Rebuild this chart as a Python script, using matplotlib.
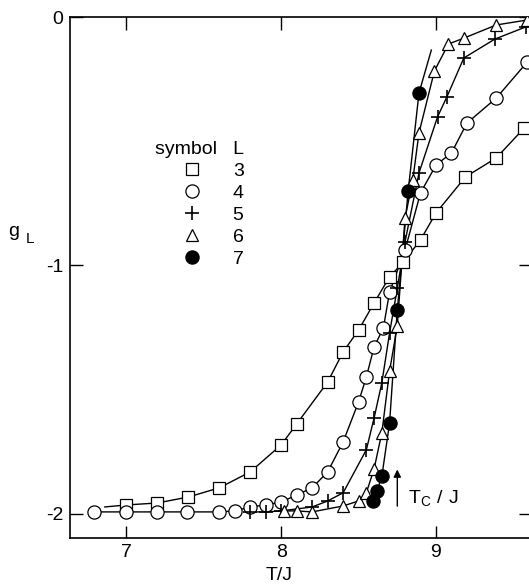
import matplotlib
matplotlib.use("Agg")
import matplotlib.pyplot as plt
from matplotlib.lines import Line2D

plt.rcParams['font.family'] = ['Liberation Sans', 'DejaVu Sans']
plt.rcParams['mathtext.fontset'] = 'custom'
plt.rcParams['mathtext.rm'] = 'Liberation Sans'

# Binder cumulant g_L vs temperature for lattice sizes L = 3..7
T_L3 = [7.0, 7.2, 7.4, 7.6, 7.8, 8.0, 8.1, 8.3, 8.4, 8.5, 8.6, 8.7, 8.79, 8.9, 9.0, 9.19, 9.39, 9.57]
g_L3 = [-1.964, -1.956, -1.932, -1.895, -1.831, -1.722, -1.638, -1.469, -1.348, -1.260,
        -1.151, -1.046, -0.986, -0.897, -0.789, -0.644, -0.567, -0.447]

T_L4 = [6.79, 7.0, 7.2, 7.39, 7.6, 7.7, 7.8, 7.9, 8.0, 8.1, 8.2, 8.3, 8.4, 8.5, 8.55,
        8.6, 8.66, 8.7, 8.8, 8.9, 9.0, 9.1, 9.2, 9.39, 9.59]
g_L4 = [-1.992, -1.992, -1.992, -1.992, -1.992, -1.988, -1.972, -1.964, -1.952, -1.924,
        -1.895, -1.831, -1.710, -1.549, -1.449, -1.328, -1.252, -1.107, -0.938, -0.708,
        -0.596, -0.547, -0.427, -0.326, -0.181]

T_L5 = [7.8, 7.9, 8.0, 8.2, 8.3, 8.4, 8.55, 8.6, 8.65, 8.7, 8.75, 8.8, 8.89, 9.01, 9.07, 9.18, 9.38, 9.58]
g_L5 = [-1.992, -1.992, -1.988, -1.972, -1.948, -1.915, -1.742, -1.614, -1.473, -1.272,
        -1.091, -0.905, -0.628, -0.402, -0.322, -0.165, -0.089, -0.040]

T_L6 = [8.02, 8.1, 8.2, 8.4, 8.5, 8.55, 8.6, 8.65, 8.7, 8.75, 8.8, 8.85, 8.89, 8.99, 9.08, 9.18, 9.39, 9.59]
g_L6 = [-1.988, -1.988, -1.992, -1.968, -1.948, -1.915, -1.819, -1.674, -1.425, -1.243,
        -0.809, -0.656, -0.467, -0.217, -0.109, -0.085, -0.032, -0.012]

T_L7 = [8.59, 8.62, 8.65, 8.70, 8.75, 8.82, 8.89]
g_L7 = [-1.948, -1.907, -1.849, -1.635, -1.179, -0.702, -0.306]

# guide curves run a little past the outermost points
curve_L3_start = (6.86, -1.972)
curve_L7_end = (8.97, -0.133)

Tc = 8.75
sizes = ['3', '4', '5', '6', '7']

fig = plt.figure(figsize=(5.29, 5.87), dpi=100)
ax = fig.add_axes([70 / 529, 49 / 587, 461 / 529, 521 / 587])

lw = 1.0
ax.plot([curve_L3_start[0]] + T_L3, [curve_L3_start[1]] + g_L3, color='k', lw=lw)
ax.plot(T_L4, g_L4, color='k', lw=lw)
ax.plot(T_L5, g_L5, color='k', lw=lw)
ax.plot(T_L6, g_L6, color='k', lw=lw)
ax.plot(T_L7 + [curve_L7_end[0]], g_L7 + [curve_L7_end[1]], color='k', lw=lw)

styles = [
    dict(marker='s', ms=8.5, mfc='white'),
    dict(marker='o', ms=9.5, mfc='white'),
    dict(marker='+', ms=10, mew=1.2),
    dict(marker='^', ms=9, mfc='white'),
    dict(marker='o', ms=9.5, mfc='black'),
]
series = [(T_L3, g_L3), (T_L4, g_L4), (T_L5, g_L5), (T_L6, g_L6), (T_L7, g_L7)]
for (t, g), st in zip(series, styles):
    kw = dict(mec='k', mew=0.9, ls='none')
    kw.update(st)
    ax.plot(t, g, zorder=3, **kw)

ax.set_xlim(6.635, 9.614)
ax.set_ylim(-2.097, 0)
ax.set_xticks([7, 8, 9])
ax.set_xticklabels(['7', '8', '9'])
ax.set_yticks([0, -1, -2])
ax.set_yticklabels(['0', '-1', '-2'])
ax.tick_params(direction='in', length=9, width=1, labelsize=14, top=True, right=True)
ax.tick_params(axis='y', pad=5)
ax.tick_params(axis='x', pad=4)
for s in ax.spines.values():
    s.set_linewidth(1.2)

# arrow marking the critical temperature
ax.annotate('', xy=(Tc, -1.81), xytext=(Tc, -1.98),
            arrowprops=dict(arrowstyle='-|>', color='k', lw=1, mutation_scale=11))
ax.text(8.819, -1.956, r'$\mathregular{T_C\ /\ J}$', fontsize=14, ha='left', va='baseline')

handles = []
for st in styles:
    kw = dict(mec='k', mew=0.9, ls='none', color='k')
    kw.update(st)
    handles.append(Line2D([], [], **kw))
leg = ax.legend(handles, sizes, title='symbol   L', loc='upper left',
                bbox_to_anchor=(145 / 529, 1 - 131 / 587), bbox_transform=fig.transFigure,
                frameon=False, fontsize=14, title_fontsize=14, alignment='right',
                borderpad=0, handlelength=1.0, handletextpad=1.6, labelspacing=0.23,
                numpoints=1)

fig.text(8 / 529, 1 - 236 / 587, 'g', fontsize=14, va='baseline')
fig.text(26 / 529, 1 - 243 / 587, 'L', fontsize=11, va='baseline')
fig.text(279 / 529, 1 - 576 / 587, 'T/J', fontsize=14, ha='center', va='center')

fig.savefig('out.png', dpi=100)
